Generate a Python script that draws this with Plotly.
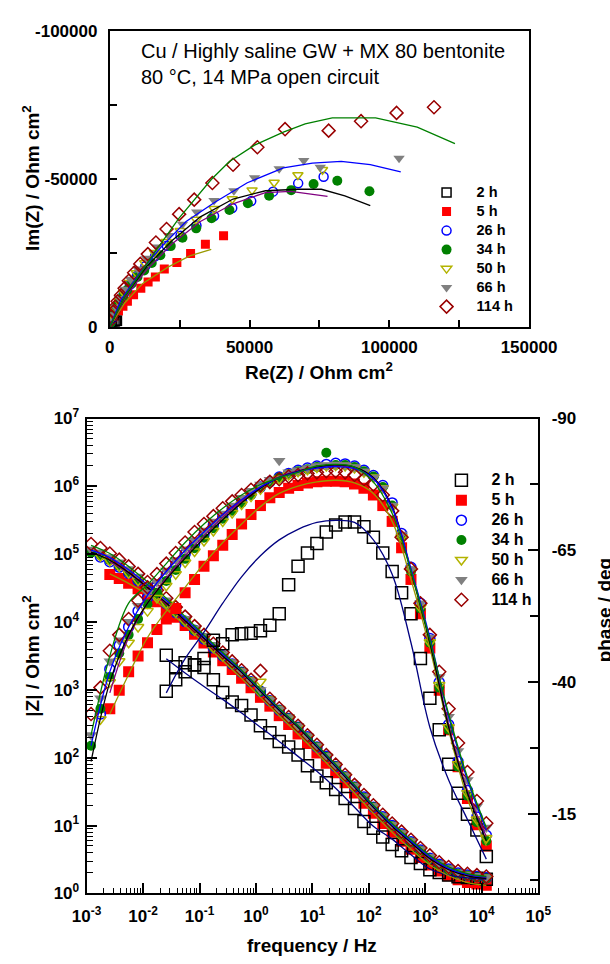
import plotly.graph_objects as go

# ---------------- Nyquist data (Ohm cm2) ----------------
NYQ_RE_2H = [40, 150, 400, 900, 1700, 2300, 2550]
NYQ_IM_2H = [-60, -280, -650, -1100, -1600, -1950, -2000]

NYQ_RE_5H = [260, 800, 1800, 3100, 4700, 6300, 8500, 11100, 13700, 16300, 19500, 24000, 28900, 34200, 40700]
NYQ_IM_5H = [-900, -2000, -3600, -5300, -6900, -8600, -10800, -13000, -15100, -16800, -19500, -21700, -24700, -27800, -30700]

NYQ_RE_26H = [300, 900, 1900, 3300, 5000, 7200, 9700, 12700, 16200, 20400, 25300, 31000, 37300, 43800, 50600, 58400, 67400, 76500]
NYQ_IM_26H = [-1500, -3400, -5700, -8300, -11000, -14100, -17200, -20400, -23800, -27300, -30700, -34200, -37400, -40100, -42400, -45600, -48400, -50600]

NYQ_RE_34H = [260, 500, 1000, 1700, 2500, 3500, 4800, 6200, 7900, 9900, 12300, 15000, 18100, 21800, 26000, 30900, 36400, 42800, 49400, 57000, 64900, 72900, 81400, 92900]
NYQ_IM_34H = [-1200, -2200, -3600, -5300, -6900, -8600, -10400, -12400, -14600, -16800, -19000, -21500, -24100, -27200, -30000, -33200, -36600, -39400, -41700, -44200, -46100, -48200, -49300, -45700]

NYQ_RE_50H = [300, 900, 1900, 3200, 4900, 7000, 9500, 12500, 16000, 20200, 25200, 30900, 37300, 43800, 50900, 58800, 67300, 76100]
NYQ_IM_50H = [-1600, -3600, -6000, -8700, -11600, -14800, -18100, -21500, -25000, -28700, -32400, -36200, -39800, -43100, -46100, -48700, -51200, -53000]

NYQ_RE_66H = [300, 1000, 2000, 3400, 5200, 7400, 10000, 13100, 16800, 21000, 26000, 31100, 37300, 44400, 51800, 60600, 69400, 75300, 103500]
NYQ_IM_66H = [-1800, -4000, -6600, -9500, -12600, -16000, -19500, -23100, -26900, -30800, -34600, -38700, -42600, -45900, -50300, -53300, -56100, -53800, -56900]

NYQ_RE_114H = [130, 500, 1200, 1900, 2800, 4000, 5300, 6800, 8700, 10900, 13600, 16500, 20300, 24800, 30200, 36700, 44100, 52800, 62700, 78300, 89900, 102600, 116000]
NYQ_IM_114H = [-2000, -3400, -5000, -6700, -8600, -10600, -13000, -15500, -18200, -21200, -24500, -28400, -33000, -38000, -42900, -48500, -54700, -60600, -66700, -66200, -69400, -72200, -74100]

# Nyquist model curves
FITN_RE_2H = [0, 500, 1500, 2500]
FITN_IM_2H = [0, -700, -1600, -2000]
FITN_RE_5H = [0, 5300, 11800, 20800, 28600, 36300]
FITN_IM_5H = [0, -8000, -14600, -20100, -23900, -26100]
FITN_RE_26H = [0, 5300, 13000, 22100, 32400, 44100, 55700, 64700, 77900]
FITN_IM_26H = [0, -9700, -19000, -27800, -35500, -41500, -45300, -45700, -44000]
FITN_RE_34H = [0, 5300, 13000, 22100, 32400, 44100, 55700, 67300, 75700, 84100, 93200]
FITN_IM_34H = [0, -10200, -20100, -28900, -37100, -43100, -45900, -46400, -46400, -44200, -40900]
FITN_RE_66H = [0, 4000, 10500, 18200, 27300, 37600, 49200, 62100, 72500, 82800, 93200, 104100]
FITN_IM_66H = [0, -9100, -17900, -26700, -35500, -42000, -48600, -53600, -55200, -55800, -54700, -52300]
FITN_RE_114H = [0, 5300, 15600, 24700, 36300, 42800, 51800, 62100, 69900, 79600, 95100, 110000, 123500]
FITN_IM_114H = [0, -10200, -24500, -36600, -49700, -55800, -61300, -65700, -68500, -70500, -70500, -67400, -61800]

# ---------------- Bode data ----------------
FREQ = [0.0012, 0.00176, 0.00258, 0.00379, 0.00556, 0.00817,
        0.012, 0.0176, 0.0258, 0.0379, 0.0556, 0.0817,
        0.12, 0.176, 0.258, 0.379, 0.556, 0.817,
        1.2, 1.76, 2.58, 3.79, 5.56, 8.17,
        12, 17.6, 25.8, 37.9, 55.6, 81.7,
        120, 176, 258, 379, 556, 817,
        1200, 1760, 2580, 3790, 5560, 8170, 12000]

# first FREQ index of each measured series
START_2H, START_5H, START_26H, START_34H, START_50H, START_66H, START_114H = 8, 2, 1, 0, 1, 0, 0

# log10 |Z| (Ohm cm2)
LOGZ_2H = [3.51, 3.34, 3.40, 3.37, 3.33, 3.15, 2.96, 2.82, 2.77, 2.63,
           2.47, 2.37, 2.24, 2.16, 2.04, 1.88, 1.73, 1.63, 1.53, 1.40,
           1.25, 1.06, 0.96, 0.83, 0.72, 0.63, 0.53, 0.44, 0.35, 0.31,
           0.27, 0.245, 0.235, 0.225, 0.21]
LOGZ_5H = [4.70, 4.64, 4.57, 4.49, 4.40, 4.30, 4.19, 4.07, 3.95, 3.82,
           3.69, 3.56, 3.43, 3.30, 3.17, 3.03, 2.89, 2.76, 2.62, 2.49,
           2.35, 2.21, 2.07, 1.92, 1.78, 1.63, 1.48, 1.33, 1.18, 1.03,
           0.90, 0.77, 0.65, 0.53, 0.42, 0.33, 0.26, 0.20, 0.16, 0.14, 0.12]
LOGZ_26H = [4.96, 4.89, 4.81, 4.72, 4.61, 4.50, 4.39, 4.27, 4.14, 4.01,
            3.88, 3.75, 3.62, 3.50, 3.38, 3.26, 3.12, 2.98, 2.84, 2.70,
            2.58, 2.45, 2.31, 2.16, 2.02, 1.87, 1.72, 1.57, 1.42, 1.27,
            1.13, 1.00, 0.88, 0.76, 0.64, 0.52, 0.43, 0.36, 0.30, 0.27, 0.25, 0.23]
LOGZ_34H = [5.02, 4.98, 4.91, 4.83, 4.73, 4.62, 4.51, 4.40, 4.28, 4.15,
            4.02, 3.88, 3.76, 3.63, 3.50, 3.38, 3.26, 3.12, 2.98, 2.84,
            2.70, 2.58, 2.45, 2.30, 2.16, 2.01, 1.87, 1.72, 1.57, 1.41,
            1.27, 1.12, 0.99, 0.87, 0.75, 0.63, 0.51, 0.42, 0.35, 0.29,
            0.26, 0.24, 0.22]
LOGZ_50H = [4.97, 4.90, 4.82, 4.72, 4.61, 4.50, 4.39, 4.27, 4.14, 4.01,
            3.88, 3.75, 3.62, 3.50, 3.38, 3.27, 3.14, 3.12, 2.86, 2.72,
            2.59, 2.46, 2.31, 2.17, 2.02, 1.88, 1.73, 1.58, 1.42, 1.28,
            1.13, 1.00, 0.88, 0.76, 0.64, 0.52, 0.43, 0.36, 0.30, 0.27, 0.25, 0.23]
LOGZ_66H = [5.07, 5.03, 4.96, 4.88, 4.78, 4.67, 4.55, 4.44, 4.32, 4.19,
            4.05, 3.91, 3.79, 3.66, 3.53, 3.41, 3.28, 3.14, 3.00, 2.86,
            2.72, 2.60, 2.47, 2.32, 2.18, 2.03, 1.89, 1.74, 1.59, 1.43,
            1.29, 1.14, 1.01, 0.89, 0.77, 0.65, 0.54, 0.44, 0.37, 0.31,
            0.28, 0.26, 0.24]
LOGZ_114H = [5.15, 5.09, 5.01, 4.92, 4.82, 4.71, 4.59, 4.47, 4.35, 4.22,
             4.08, 3.94, 3.81, 3.68, 3.55, 3.42, 3.29, 3.15, 3.28, 2.87,
             2.73, 2.60, 2.47, 2.33, 2.19, 2.04, 1.90, 1.75, 1.60, 1.45,
             1.30, 1.16, 1.03, 0.91, 0.79, 0.67, 0.56, 0.46, 0.39, 0.33,
             0.29, 0.27, 0.25]

# phase (deg)
PHASE_2H = [-38.3, -40.5, -42, -43.3, -44.5, -48, -47.3, -49, -49.2, -49.3,
            -49.8, -50.8, -53, -58.5, -62, -64.5, -66.3, -68.5, -69.8, -70.4,
            -70.4, -69.5, -67.5, -64.5, -61, -57, -53, -44.5, -37, -31,
            -24.5, -19, -15, -12, -7]
PHASE_5H = [-35, -38.5, -42, -45, -47.5, -50, -52, -54, -57, -59.5,
            -62, -64, -66, -68, -70, -71.8, -73.5, -75, -76, -76.8,
            -77.3, -77.8, -78, -78.1, -78.1, -78, -77.6, -76.8, -75.5, -73.5,
            -70.5, -65.5, -59.5, -53, -46.5, -38.5, -31, -24, -18, -13, -9]
PHASE_26H = [-34, -42.5, -47, -50.5, -53.5, -56, -58.2, -60.3, -62.3, -64.3,
             -66.2, -68, -69.8, -71.4, -72.9, -74.3, -75.7, -77, -78, -78.9,
             -79.6, -80.2, -80.6, -81, -81.3, -81.5, -81.4, -81, -80.2, -79.2,
             -77.3, -74, -68.2, -61.8, -55, -48.3, -40, -32, -25, -19.5, -14.5, -11]
PHASE_34H = [-28, -35, -41, -45.5, -49, -52, -54.8, -57, -59.2, -61.3,
             -63.4, -65.4, -67.4, -69.2, -71, -72.5, -74, -75.5, -77, -78,
             -78.8, -79.5, -80, -80.4, -80.8, -83.5, -81.2, -81.2, -80.8, -80,
             -79, -77, -73.5, -67.5, -61, -54, -47.5, -39, -31, -24,
             -18.5, -13.5, -10]
PHASE_50H = [-33, -40, -44, -47.5, -50.5, -53.5, -56, -58.3, -60.5, -62.7,
             -64.8, -66.8, -68.7, -70.5, -72.1, -73.7, -75.2, -76.6, -77.7, -78.6,
             -79.3, -79.9, -80.3, -80.7, -81, -81.1, -81, -80.6, -79.8, -78.8,
             -76.8, -73.3, -67.5, -61, -54.2, -47.6, -39.5, -31.5, -24.5, -19, -14, -10.5]
PHASE_66H = [-30, -37, -44, -48, -51.5, -54.5, -57, -59, -61.2, -63.2,
             -65.2, -67, -68.8, -70.5, -72, -73.5, -75, -76.3, -77.5, -78.4,
             -82, -79.8, -80.2, -80.6, -81, -81.2, -81.3, -81.2, -80.8, -80,
             -78.8, -76.8, -73.5, -68, -61.5, -55, -48.5, -41, -33.5, -27,
             -21.5, -16.5, -12.5]
PHASE_114H = [-34, -39, -46, -49, -52, -55.5, -58, -60.5, -62.5, -64.5,
              -66.5, -68.5, -70, -71.5, -73, -74.3, -75.5, -76.5, -77.3, -78,
              -78.5, -79, -79.3, -79.6, -79.8, -80, -80, -79.8, -79.3, -78.5,
              -77.5, -75.5, -72.5, -67.5, -61.5, -55, -49, -42, -35, -28.5,
              -23, -17.5, -13.3]

# equivalent-circuit model curves for the Bode plot
FIT_FREQ = [0.0012, 0.00258, 0.00556, 0.012, 0.0258, 0.0556, 0.12, 0.258, 0.556,
            1.2, 2.58, 5.56, 12, 25.8, 55.6, 120, 258, 556, 1200, 2580, 5560, 12000]
FIT_START_2H, FIT_START_5H, FIT_START_26H, FIT_START_34H, FIT_START_66H, FIT_START_114H = 4, 1, 1, 0, 0, 0

FIT_LOGZ_2H = [3.46, 3.25, 3.05, 2.86, 2.66, 2.45, 2.24, 2.02, 1.80, 1.55, 1.27, 0.99, 0.80, 0.57, 0.36, 0.27, 0.23, 0.21]
FIT_PHASE_2H = [-38, -44.5, -49.5, -55, -60, -64, -67, -69, -70.3, -70.7, -70.3, -67, -60.5, -47.5, -31.5, -21.5, -14, -6.5]
FIT_LOGZ_5H = [4.71, 4.57, 4.40, 4.19, 3.95, 3.69, 3.43, 3.17, 2.89, 2.62, 2.35, 2.07, 1.78, 1.48, 1.18, 0.90, 0.65, 0.42, 0.26, 0.16, 0.12]
FIT_PHASE_5H = [-34, -41.5, -48.5, -53.5, -58, -62.5, -66.5, -70, -73.3, -75.8, -77.2, -78, -78.3, -77.8, -75.8, -70.5, -59.5, -46.5, -31, -18, -9]
FIT_LOGZ_26H = [4.89, 4.72, 4.50, 4.27, 4.01, 3.75, 3.50, 3.26, 2.98, 2.70, 2.45, 2.16, 1.87, 1.57, 1.27, 1.00, 0.76, 0.52, 0.36, 0.27, 0.23]
FIT_PHASE_26H = [-38, -48.5, -55, -59.8, -64, -67.8, -71.3, -74.3, -77, -79, -80.1, -80.8, -81.1, -80.7, -78.8, -73.3, -61.3, -47.8, -32, -19.5, -10.8]
FIT_LOGZ_34H = [5.03, 4.91, 4.73, 4.51, 4.28, 4.02, 3.76, 3.50, 3.26, 2.98, 2.70, 2.45, 2.16, 1.87, 1.57, 1.27, 0.99, 0.75, 0.51, 0.35, 0.26, 0.22]
FIT_PHASE_34H = [-25, -40, -49, -55, -59.5, -63.5, -67.3, -70.8, -74, -76.8, -78.8, -80, -80.8, -81.2, -80.8, -78.8, -73.2, -61, -47.5, -31.5, -19, -10]
FIT_LOGZ_66H = [5.06, 4.95, 4.77, 4.55, 4.32, 4.05, 3.79, 3.53, 3.28, 3.00, 2.72, 2.47, 2.18, 1.89, 1.59, 1.29, 1.01, 0.77, 0.54, 0.37, 0.28, 0.24]
FIT_PHASE_66H = [-28, -42, -50.5, -56.5, -61, -65, -68.5, -71.8, -74.6, -77, -78.8, -79.9, -80.6, -80.9, -80.5, -78.6, -73, -61.5, -48.5, -33.5, -21.5, -12]
FIT_LOGZ_114H = [5.13, 5.01, 4.82, 4.59, 4.35, 4.08, 3.81, 3.55, 3.29, 3.01, 2.73, 2.47, 2.19, 1.90, 1.60, 1.30, 1.03, 0.79, 0.56, 0.39, 0.29, 0.25]
FIT_PHASE_114H = [-30, -45, -55, -58.5, -62.5, -66.5, -70, -73, -75.5, -77.5, -78.8, -79.8, -81, -81.3, -80.8, -78, -72, -61, -48, -34, -22, -12.5]

# ---------------- styling ----------------
W, H = 610, 964
FONT = "Liberation Sans, Arial, sans-serif"

def px_x(v):
    return v / W

def px_y(v):
    return 1 - v / H

SERIES = [
    # label, symbol, colour, size (top), size (bottom)
    ("2 h", "square-open", "#000000", 9, 12),
    ("5 h", "square", "#ff0000", 9, 11),
    ("26 h", "circle-open", "#0000ff", 9, 10),
    ("34 h", "circle", "#008000", 10, 10),
    ("50 h", "triangle-down-open", "#b3b300", 9, 10),
    ("66 h", "triangle-down", "#808080", 10, 11),
    ("114 h", "diamond-open", "#990000", 10, 10),
]
NYQ = [(NYQ_RE_2H, NYQ_IM_2H), (NYQ_RE_5H, NYQ_IM_5H), (NYQ_RE_26H, NYQ_IM_26H),
       (NYQ_RE_34H, NYQ_IM_34H), (NYQ_RE_50H, NYQ_IM_50H), (NYQ_RE_66H, NYQ_IM_66H),
       (NYQ_RE_114H, NYQ_IM_114H)]
BODE = [(START_2H, LOGZ_2H, PHASE_2H), (START_5H, LOGZ_5H, PHASE_5H),
        (START_26H, LOGZ_26H, PHASE_26H), (START_34H, LOGZ_34H, PHASE_34H),
        (START_50H, LOGZ_50H, PHASE_50H), (START_66H, LOGZ_66H, PHASE_66H),
        (START_114H, LOGZ_114H, PHASE_114H)]
NYQ_FITS = [(FITN_RE_2H, FITN_IM_2H, "#000080"), (FITN_RE_5H, FITN_IM_5H, "#999900"),
            (FITN_RE_26H, FITN_IM_26H, "#800080"), (FITN_RE_34H, FITN_IM_34H, "#000000"),
            (FITN_RE_66H, FITN_IM_66H, "#0000ff"), (FITN_RE_114H, FITN_IM_114H, "#008000")]
BODE_FITS = [(FIT_START_2H, FIT_LOGZ_2H, FIT_PHASE_2H, "#000080"),
             (FIT_START_5H, FIT_LOGZ_5H, FIT_PHASE_5H, "#999900"),
             (FIT_START_26H, FIT_LOGZ_26H, FIT_PHASE_26H, "#800080"),
             (FIT_START_34H, FIT_LOGZ_34H, FIT_PHASE_34H, "#000000"),
             (FIT_START_66H, FIT_LOGZ_66H, FIT_PHASE_66H, "#0000ff"),
             (FIT_START_114H, FIT_LOGZ_114H, FIT_PHASE_114H, "#008000")]

def marker(sym, col, size):
    filled = not sym.endswith("-open")
    return dict(symbol=sym, size=size, color=col,
                line=dict(color=col, width=1.5 if not filled else 0))

def legend_name(label, size):
    return '<span style="font-size:%spx">%s</span>' % (size, label)

fig = go.Figure()

# draw order: red squares underneath, then the rest
order = [1, 0, 2, 3, 4, 5, 6]

# --- Nyquist ---
for i in order:
    label, sym, col, s_top, _ = SERIES[i]
    re, im = NYQ[i]
    fig.add_trace(go.Scatter(x=re, y=im, mode="markers", marker=marker(sym, col, s_top),
                             name=legend_name(label, 14.5), legend="legend",
                             xaxis="x", yaxis="y", legendrank=i))
for re, im, col in NYQ_FITS:
    fig.add_trace(go.Scatter(x=re, y=im, mode="lines", line=dict(color=col, width=1.3),
                             showlegend=False, xaxis="x", yaxis="y"))

# --- Bode ---
for i in order:
    label, sym, col, _, s_bot = SERIES[i]
    start, logz, phase = BODE[i]
    f = FREQ[start:start + len(logz)]
    fig.add_trace(go.Scatter(x=f, y=[10 ** v for v in logz], mode="markers",
                             marker=marker(sym, col, s_bot), name=legend_name(label, 16),
                             legend="legend2", xaxis="x2", yaxis="y2", legendrank=i))
    fig.add_trace(go.Scatter(x=f, y=phase, mode="markers", marker=marker(sym, col, s_bot),
                             showlegend=False, xaxis="x2", yaxis="y3"))
for start, logz, phase, col in BODE_FITS:
    f = FIT_FREQ[start:start + len(logz)]
    fig.add_trace(go.Scatter(x=f, y=[10 ** v for v in logz], mode="lines",
                             line=dict(color=col, width=1.3, shape="spline"),
                             showlegend=False, xaxis="x2", yaxis="y2"))
    fig.add_trace(go.Scatter(x=f, y=phase, mode="lines",
                             line=dict(color=col, width=1.3, shape="spline"),
                             showlegend=False, xaxis="x2", yaxis="y3"))

tickfont = dict(family=FONT, size=17, color="black", weight="bold")
axis_common = dict(showline=True, linecolor="black", linewidth=2, showgrid=False,
                   zeroline=False, ticks="inside", tickcolor="black", tickwidth=1.5,
                   tickfont=tickfont)

dec_minor = [m * 10 ** e for e in range(-3, 5) for m in range(2, 10)]
dec_minor_z = [m * 10 ** e for e in range(0, 7) for m in range(2, 10)]

fig.update_layout(
    width=W, height=H,
    margin=dict(l=0, r=0, t=0, b=0, pad=0),
    paper_bgcolor="white", plot_bgcolor="white",
    font=dict(family=FONT, color="black"),
    xaxis=dict(domain=[px_x(102), px_x(553)], anchor="y", range=[0, 150000],
               tickmode="array", tickvals=[0, 50000, 100000, 150000],
               ticktext=["0", "50000", "100000", "150000"], ticklen=7, mirror=True,
               ticklabelstandoff=4,
               minor=dict(tickmode="array", tickvals=[25000, 75000, 125000], ticks="inside",
                          ticklen=7, tickcolor="black", tickwidth=1.5),
               **axis_common),
    yaxis=dict(domain=[px_y(322), px_y(19)], anchor="x", range=[0, -100000],
               tickmode="array", tickvals=[0, -50000, -100000],
               ticktext=["0", "-50000", "-100000"], ticklen=7, mirror=True,
               ticklabelstandoff=7,
               minor=dict(tickmode="array", tickvals=[-25000, -75000], ticks="inside",
                          ticklen=7, tickcolor="black", tickwidth=1.5),
               **axis_common),
    xaxis2=dict(domain=[px_x(77), px_x(563)], anchor="y2", type="log", range=[-3, 5],
                tickmode="array", tickvals=[10 ** e for e in range(-3, 6)],
                ticktext=["10<sup>%d</sup>" % e for e in range(-3, 6)],
                ticklen=10, mirror=True, ticklabelstandoff=6,
                minor=dict(tickmode="array", tickvals=dec_minor, ticks="inside",
                           ticklen=5, tickcolor="black", tickwidth=1.2),
                **axis_common),
    yaxis2=dict(domain=[px_y(902), px_y(416)], anchor="x2", type="log", range=[0, 7],
                tickmode="array", tickvals=[10 ** e for e in range(0, 8)],
                ticktext=["10<sup>%d</sup>" % e for e in range(0, 8)],
                ticklen=10, mirror=False, ticklabelstandoff=2,
                minor=dict(tickmode="array", tickvals=dec_minor_z, ticks="inside",
                           ticklen=6, tickcolor="black", tickwidth=1.2),
                **axis_common),
    yaxis3=dict(overlaying="y2", anchor="x2", side="right", range=[0, -90],
                tickmode="array", tickvals=[-90, -65, -40, -15],
                ticktext=["-90", "-65", "-40", "-15"], ticklen=10, ticklabelstandoff=8,
                minor=dict(tickmode="array", tickvals=[-77.5, -52.5, -27.5, -2.5],
                           ticks="inside", ticklen=8, tickcolor="black", tickwidth=1.5),
                **axis_common),
    legend=dict(x=px_x(432), y=px_y(170), xanchor="left", yanchor="top",
                bgcolor="rgba(0,0,0,0)", itemwidth=50,
                font=dict(family=FONT, size=12, color="black", weight="bold")),
    legend2=dict(x=px_x(448), y=px_y(464), xanchor="left", yanchor="top",
                 bgcolor="rgba(0,0,0,0)", itemwidth=50,
                 font=dict(family=FONT, size=13, color="black", weight="bold")),
    showlegend=True,
)

title_font = dict(family=FONT, size=19, color="black", weight="bold")
annotations = [
    dict(text="Cu / Highly saline GW + MX 80 bentonite", x=px_x(133), y=px_y(40),
         xanchor="left", yanchor="middle", font=dict(family=FONT, size=20, color="black")),
    dict(text="80 °C, 14 MPa open circuit", x=px_x(133), y=px_y(67),
         xanchor="left", yanchor="middle", font=dict(family=FONT, size=20, color="black")),
    dict(text="Im(Z) / Ohm cm<sup>2</sup>", x=px_x(17), y=px_y(170), textangle=-90,
         xanchor="center", yanchor="middle", font=title_font),
    dict(text="Re(Z) / Ohm cm<sup>2</sup>", x=px_x(327), y=px_y(367),
         xanchor="center", yanchor="middle", font=title_font),
    dict(text="|Z| / Ohm cm<sup>2</sup>", x=px_x(17), y=px_y(659), textangle=-90,
         xanchor="center", yanchor="middle", font=title_font),
    dict(text="frequency / Hz", x=px_x(320), y=px_y(955),
         xanchor="center", yanchor="middle", font=title_font),
    dict(text="phase / deg", x=px_x(634), y=px_y(612), textangle=-90,
         xanchor="center", yanchor="middle", font=title_font),
]
for a in annotations:
    a.update(xref="paper", yref="paper", showarrow=False)
fig.update_layout(annotations=annotations)

fig.write_html("out.html", config={"displayModeBar": False},
               post_script="document.body.style.margin='0';document.body.style.overflow='hidden';")
